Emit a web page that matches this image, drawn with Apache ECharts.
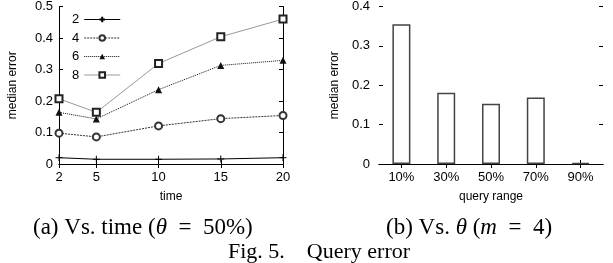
<!DOCTYPE html>
<html>
<head>
<meta charset="utf-8">
<script src="https://cdn.jsdelivr.net/npm/echarts@6/dist/echarts.min.js"></script>
<style>
  html, body { margin: 0; padding: 0; background: #fff; }
  #chart { width: 613px; height: 263px; }
</style>
</head>
<body>
<div id="chart"></div>
<script>
// data
var timeTicks = [2, 5, 10, 15, 20];
var seriesNames = ['2', '4', '6', '8'];
var m2 = [0.020, 0.015, 0.015, 0.016, 0.020];
var m4 = [0.098, 0.086, 0.121, 0.144, 0.154];
var m6 = [0.164, 0.143, 0.236, 0.313, 0.329];
var m8 = [0.207, 0.164, 0.319, 0.404, 0.460];
var rangeCats = ['10%', '30%', '50%', '70%', '90%'];
var rangeErr = [0.355, 0.181, 0.153, 0.169, 0.003];

function pairs(xs, ys) {
    var out = [];
    for (var i = 0; i < xs.length; i++) out.push([xs[i], ys[i]]);
    return out;
}

var sans = 'Liberation Sans';
var serif = 'Liberation Serif';
var lbl = { color: '#000', fontFamily: sans, fontSize: 13 };
var nameStyle = { color: '#000', fontFamily: sans, fontSize: 12 };
var blackLine = { lineStyle: { color: '#000', width: 1 } };
var tickIn = { show: true, inside: true, length: 4, lineStyle: { color: '#000' } };

var myChart = echarts.init(document.getElementById('chart'), null, { renderer: 'canvas' });

var option = {
    animation: false,
    backgroundColor: '#fff',
    grid: [
        { left: 59, top: 6, width: 224, height: 158 },
        { left: 379, top: 6, width: 224, height: 158 }
    ],
    legend: {
        data: seriesNames,
        orient: 'vertical',
        left: 67,
        top: 8,
        align: 'right',
        itemWidth: 36,
        itemHeight: 7,
        itemGap: 5.5,
        lineStyle: { width: 1 },
        textStyle: { color: '#000', fontFamily: sans, fontSize: 13 }
    },
    xAxis: [
        {
            gridIndex: 0, type: 'value', min: 2, max: 20,
            name: 'time', nameLocation: 'middle', nameGap: 27,
            nameTextStyle: nameStyle,
            axisLine: blackLine,
            axisTick: { show: true, inside: true, length: 4, lineStyle: { color: '#000' }, customValues: timeTicks },
            axisLabel: Object.assign({ customValues: timeTicks, margin: 7 }, lbl),
            splitLine: { show: false }
        },
        {
            gridIndex: 0, type: 'value', min: 2, max: 20, position: 'top',
            axisLine: blackLine,
            axisTick: { show: true, inside: true, length: 4, lineStyle: { color: '#000' }, customValues: timeTicks },
            axisLabel: { show: false },
            splitLine: { show: false }
        },
        {
            gridIndex: 1, type: 'category', data: rangeCats,
            name: 'query range', nameLocation: 'middle', nameGap: 27,
            nameTextStyle: nameStyle,
            axisLine: blackLine,
            axisTick: { show: true, inside: true, length: 4, alignWithLabel: true, lineStyle: { color: '#000' } },
            axisLabel: Object.assign({ margin: 7 }, lbl),
            splitLine: { show: false }
        },
        {
            gridIndex: 1, type: 'category', data: rangeCats, position: 'top',
            axisLine: blackLine,
            axisTick: { show: true, inside: true, length: 4, alignWithLabel: true, lineStyle: { color: '#000' } },
            axisLabel: { show: false },
            splitLine: { show: false }
        }
    ],
    yAxis: [
        {
            gridIndex: 0, type: 'value', min: 0, max: 0.5, interval: 0.1,
            name: 'median error', nameLocation: 'middle', nameGap: 40,
            nameTextStyle: nameStyle,
            axisLine: blackLine, axisTick: tickIn,
            axisLabel: Object.assign({ margin: 6 }, lbl),
            splitLine: { show: false }
        },
        {
            gridIndex: 0, type: 'value', min: 0, max: 0.5, interval: 0.1, position: 'right',
            axisLine: blackLine, axisTick: tickIn,
            axisLabel: { show: false },
            splitLine: { show: false }
        },
        {
            gridIndex: 1, type: 'value', min: 0, max: 0.4, interval: 0.1,
            name: 'median error', nameLocation: 'middle', nameGap: 38,
            nameTextStyle: nameStyle,
            axisLine: blackLine, axisTick: tickIn,
            axisLabel: Object.assign({ margin: 9 }, lbl),
            splitLine: { show: false }
        },
        {
            gridIndex: 1, type: 'value', min: 0, max: 0.4, interval: 0.1, position: 'right',
            axisLine: blackLine, axisTick: tickIn,
            axisLabel: { show: false },
            splitLine: { show: false }
        }
    ],
    series: [
        {
            name: '2', type: 'line', xAxisIndex: 0, yAxisIndex: 0,
            data: pairs(timeTicks, m2),
            symbol: 'path://M0,5L10,5M5,0L5,10', symbolSize: 7,
            lineStyle: { color: '#000', width: 1 },
            itemStyle: { color: '#000', borderColor: '#000', borderWidth: 1 }
        },
        {
            name: '4', type: 'line', xAxisIndex: 0, yAxisIndex: 0,
            data: pairs(timeTicks, m4),
            symbol: 'emptyCircle', symbolSize: 7,
            lineStyle: { color: '#333', width: 1, type: [2, 1] },
            itemStyle: { color: '#333', borderColor: '#333', borderWidth: 1 }
        },
        {
            name: '6', type: 'line', xAxisIndex: 0, yAxisIndex: 0,
            data: pairs(timeTicks, m6),
            symbol: 'triangle', symbolSize: 7,
            lineStyle: { color: '#111', width: 1, type: [1, 1] },
            itemStyle: { color: '#111' }
        },
        {
            name: '8', type: 'line', xAxisIndex: 0, yAxisIndex: 0,
            data: pairs(timeTicks, m8),
            symbol: 'emptyRect', symbolSize: 7,
            lineStyle: { color: '#999', width: 1 },
            itemStyle: { color: '#222', borderColor: '#222', borderWidth: 1 }
        },
        {
            name: 'range', type: 'bar', xAxisIndex: 2, yAxisIndex: 2,
            data: rangeErr, barWidth: 18,
            itemStyle: { color: '#fff', borderColor: '#444', borderWidth: 1.5 }
        }
    ],
    graphic: [
        {
            type: 'text', left: 33, top: 216,
            style: {
                text: '(a) Vs. time ({i|θ}  =  50%)',
                font: '23px "Liberation Serif"', fill: '#000',
                rich: { i: { fontStyle: 'italic', fontFamily: serif, fontSize: 23 } }
            }
        },
        {
            type: 'text', left: 386, top: 216,
            style: {
                text: '(b) Vs. {i|θ} ({i|m}  =  4)',
                font: '23px "Liberation Serif"', fill: '#000',
                rich: { i: { fontStyle: 'italic', fontFamily: serif, fontSize: 23 } }
            }
        },
        {
            type: 'text', left: 228, top: 241,
            style: {
                text: 'Fig. 5.    Query error',
                font: '22px "Liberation Serif"', fill: '#000'
            }
        }
    ]
};

myChart.setOption(option);
</script>
</body>
</html>
